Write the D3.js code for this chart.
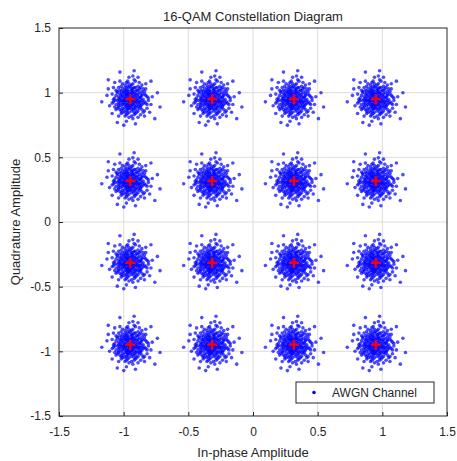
<!DOCTYPE html>
<html>
<head>
<meta charset="utf-8">
<script src="https://cdn.jsdelivr.net/npm/d3@7"></script>
<style>
  body { margin: 0; background: #fff; }
  text { font-family: "Liberation Sans", Arial, sans-serif; }
</style>
</head>
<body>
<div id="chart-area"></div>
<script>
// ideal 16-QAM levels (normalised, 1/sqrt(10) and 3/sqrt(10))
var levels = [-0.949, -0.316, 0.316, 0.949];

// noise offsets [dI, dQ] estimated from one cluster, reused for each symbol
var noise = [
  // I > 0, Q > 0
  [0.01,0.03],[0.04,0.01],[0.02,0.02],[0.03,0.04],[0.00,0.01],[0.05,0.03],[0.01,0.05],[0.04,0.04],[0.02,0.00],[0.03,0.02],
  [0.05,0.00],[0.00,0.04],[0.02,0.05],[0.01,0.07],[0.03,0.09],[0.04,0.06],[0.02,0.08],[0.00,0.10],[0.05,0.07],[0.02,0.06],
  [0.04,0.09],[0.01,0.08],[0.07,0.01],[0.09,0.03],[0.06,0.04],[0.08,0.02],[0.10,0.00],[0.07,0.05],[0.06,0.02],[0.09,0.04],
  [0.08,0.01],[0.06,0.07],[0.08,0.09],[0.09,0.06],[0.07,0.08],[0.10,0.08],[0.06,0.10],[0.02,0.12],[0.04,0.14],[0.01,0.11],
  [0.03,0.15],[0.12,0.03],[0.14,0.01],[0.11,0.04],[0.13,0.02],[0.07,0.13],[0.09,0.11],[0.12,0.08],[0.11,0.06],[0.02,0.18],
  [0.17,0.02],[0.06,0.17],[0.12,0.12],[0.21,0.05],[0.03,0.22],[0.16,0.14],
  // I > 0, Q < 0
  [0.02,-0.01],[0.04,-0.03],[0.01,-0.04],[0.03,-0.02],[0.05,-0.05],[0.00,-0.02],[0.02,-0.04],[0.04,-0.01],[0.01,-0.01],[0.03,-0.05],
  [0.05,-0.02],[0.02,-0.03],[0.00,-0.05],[0.02,-0.08],[0.04,-0.06],[0.01,-0.09],[0.03,-0.07],[0.05,-0.10],[0.00,-0.07],[0.03,-0.10],
  [0.01,-0.06],[0.04,-0.08],[0.08,-0.02],[0.06,-0.03],[0.09,-0.01],[0.07,-0.04],[0.10,-0.03],[0.06,-0.01],[0.08,-0.05],[0.09,-0.04],
  [0.07,-0.02],[0.07,-0.07],[0.09,-0.08],[0.06,-0.09],[0.08,-0.06],[0.10,-0.10],[0.06,-0.06],[0.03,-0.12],[0.01,-0.13],[0.04,-0.11],
  [0.02,-0.15],[0.11,-0.02],[0.13,-0.04],[0.14,-0.01],[0.12,-0.03],[0.08,-0.12],[0.06,-0.14],[0.13,-0.07],[0.11,-0.09],[0.04,-0.19],
  [0.16,-0.04],[0.15,-0.10],[0.11,-0.13],[0.19,-0.15],[0.23,-0.06],
  // I < 0, Q > 0
  [-0.01,0.02],[-0.03,0.04],[-0.04,0.01],[-0.02,0.03],[-0.05,0.05],[-0.01,0.00],[-0.03,0.01],[-0.04,0.04],[-0.02,0.05],[-0.05,0.02],
  [-0.01,0.04],[-0.03,0.03],[-0.04,0.00],[-0.02,0.07],[-0.04,0.09],[-0.01,0.06],[-0.03,0.08],[-0.05,0.06],[-0.02,0.10],[-0.04,0.07],
  [-0.01,0.09],[-0.03,0.06],[-0.06,0.03],[-0.08,0.01],[-0.07,0.04],[-0.09,0.02],[-0.10,0.05],[-0.06,0.00],[-0.08,0.04],[-0.07,0.02],
  [-0.09,0.00],[-0.07,0.06],[-0.09,0.09],[-0.06,0.08],[-0.08,0.07],[-0.10,0.06],[-0.07,0.10],[-0.03,0.13],[-0.01,0.12],[-0.04,0.11],
  [-0.02,0.14],[-0.12,0.01],[-0.11,0.03],[-0.14,0.04],[-0.13,0.00],[-0.06,0.12],[-0.08,0.14],[-0.11,0.07],[-0.13,0.09],[-0.01,0.17],
  [-0.18,0.03],[-0.12,0.13],[-0.17,0.08],[-0.08,0.21],[-0.17,0.15],
  // I < 0, Q < 0
  [-0.02,-0.02],[-0.04,-0.01],[-0.01,-0.03],[-0.03,-0.04],[-0.05,-0.03],[-0.02,-0.05],[-0.04,-0.04],[-0.01,-0.01],[-0.03,-0.01],[-0.05,-0.01],
  [-0.01,-0.05],[-0.02,-0.04],[-0.04,-0.02],[-0.01,-0.07],[-0.03,-0.09],[-0.04,-0.06],[-0.02,-0.08],[-0.05,-0.08],[-0.01,-0.10],[-0.03,-0.06],
  [-0.04,-0.10],[-0.02,-0.07],[-0.07,-0.01],[-0.09,-0.03],[-0.06,-0.04],[-0.08,-0.03],[-0.10,-0.01],[-0.07,-0.05],[-0.06,-0.02],[-0.09,-0.05],
  [-0.08,-0.01],[-0.06,-0.07],[-0.08,-0.08],[-0.09,-0.06],[-0.07,-0.09],[-0.10,-0.07],[-0.06,-0.10],[-0.02,-0.11],[-0.04,-0.13],[-0.01,-0.14],
  [-0.03,-0.12],[-0.11,-0.04],[-0.13,-0.02],[-0.12,-0.01],[-0.14,-0.03],[-0.07,-0.11],[-0.09,-0.13],[-0.12,-0.06],[-0.11,-0.08],[-0.03,-0.17],
  [-0.16,-0.05],[-0.14,-0.11],[-0.05,-0.20],[-0.22,-0.02],[-0.10,-0.18]
];

var tickValues = [-1.5, -1, -0.5, 0, 0.5, 1, 1.5];
var tickLabels = ["-1.5", "-1", "-0.5", "0", "0.5", "1", "1.5"];

var margin = { top: 28, right: 10, bottom: 45, left: 59 };
var width = 457 - margin.left - margin.right,   // 388
    height = 461 - margin.top - margin.bottom;  // 388

var svg = d3.select("#chart-area")
  .append("svg")
    .attr("width", 457)
    .attr("height", 461);

var g = svg.append("g")
  .attr("transform", "translate(" + margin.left + "," + margin.top + ")");

var x = d3.scaleLinear().domain([-1.5, 1.5]).range([0, width]);
var y = d3.scaleLinear().domain([-1.5, 1.5]).range([height, 0]);

// grid
g.selectAll(".gx").data(tickValues.slice(1, -1)).enter().append("line")
  .attr("x1", function(d) { return x(d); }).attr("x2", function(d) { return x(d); })
  .attr("y1", 0).attr("y2", height)
  .attr("stroke", "#dcdcdc").attr("stroke-width", 1);
g.selectAll(".gy").data(tickValues.slice(1, -1)).enter().append("line")
  .attr("y1", function(d) { return y(d); }).attr("y2", function(d) { return y(d); })
  .attr("x1", 0).attr("x2", width)
  .attr("stroke", "#dcdcdc").attr("stroke-width", 1);

// build received points
var symbols = [];
levels.forEach(function(i) {
  levels.forEach(function(q) { symbols.push({ i: i, q: q }); });
});
var received = [];
symbols.forEach(function(s) {
  noise.forEach(function(n) {
    received.push({ i: s.i + n[0], q: s.q + n[1] });
  });
});

g.append("g").selectAll("circle")
  .data(received)
  .enter().append("circle")
    .attr("cx", function(d) { return x(d.i); })
    .attr("cy", function(d) { return y(d.q); })
    .attr("r", 1.8)
    .attr("fill", "#0000ff")
    .attr("fill-opacity", 0.7);

// reference constellation
var plus = g.append("g").selectAll("g")
  .data(symbols)
  .enter().append("g")
    .attr("transform", function(d) { return "translate(" + x(d.i) + "," + y(d.q) + ")"; });
plus.append("line").attr("x1", -5).attr("x2", 5).attr("y1", 0).attr("y2", 0)
  .attr("stroke", "#ff0000").attr("stroke-width", 2.2);
plus.append("line").attr("y1", -5).attr("y2", 5).attr("x1", 0).attr("x2", 0)
  .attr("stroke", "#ff0000").attr("stroke-width", 2.2);

// axes (ticks inward, matlab style)
var xAxisCall = d3.axisBottom(x).tickValues(tickValues)
  .tickFormat(function(d, i) { return tickLabels[i]; }).tickSizeInner(-4).tickSizeOuter(0).tickPadding(11);
var yAxisCall = d3.axisLeft(y).tickValues(tickValues)
  .tickFormat(function(d, i) { return tickLabels[i]; }).tickSizeInner(-4).tickSizeOuter(0).tickPadding(8);

var xAxis = g.append("g").attr("transform", "translate(0," + height + ")").call(xAxisCall);
var yAxis = g.append("g").call(yAxisCall);
[xAxis, yAxis].forEach(function(a) {
  a.select(".domain").remove();
  a.selectAll("line").attr("stroke", "#262626");
  a.selectAll("text").attr("fill", "#262626").attr("font-size", "12px")
    .style("font-family", "'Liberation Sans', Arial, sans-serif");
});

// box
g.append("rect")
  .attr("width", width).attr("height", height)
  .attr("fill", "none").attr("stroke", "#262626").attr("stroke-width", 1);

// labels
svg.append("text")
  .attr("x", margin.left + width / 2).attr("y", 21)
  .attr("text-anchor", "middle").attr("font-size", "13px").attr("fill", "#262626")
  .text("16-QAM Constellation Diagram");

svg.append("text")
  .attr("x", margin.left + width / 2).attr("y", 457)
  .attr("text-anchor", "middle").attr("font-size", "13px").attr("fill", "#262626")
  .text("In-phase Amplitude");

svg.append("text")
  .attr("transform", "translate(20," + (margin.top + height / 2) + ") rotate(-90)")
  .attr("text-anchor", "middle").attr("font-size", "13px").attr("fill", "#262626")
  .text("Quadrature Amplitude");

// legend
var lg = g.append("g").attr("transform", "translate(" + (x(1.5) - 151) + "," + (y(-1.5) - 34) + ")");
lg.append("rect").attr("width", 138).attr("height", 21)
  .attr("fill", "#fff").attr("stroke", "#262626").attr("stroke-width", 1);
lg.append("circle").attr("cx", 18).attr("cy", 10.5).attr("r", 1.8).attr("fill", "#0000ff");
lg.append("text").attr("x", 36).attr("y", 15).attr("font-size", "12px").attr("fill", "#262626")
  .text("AWGN Channel");
</script>
</body>
</html>
